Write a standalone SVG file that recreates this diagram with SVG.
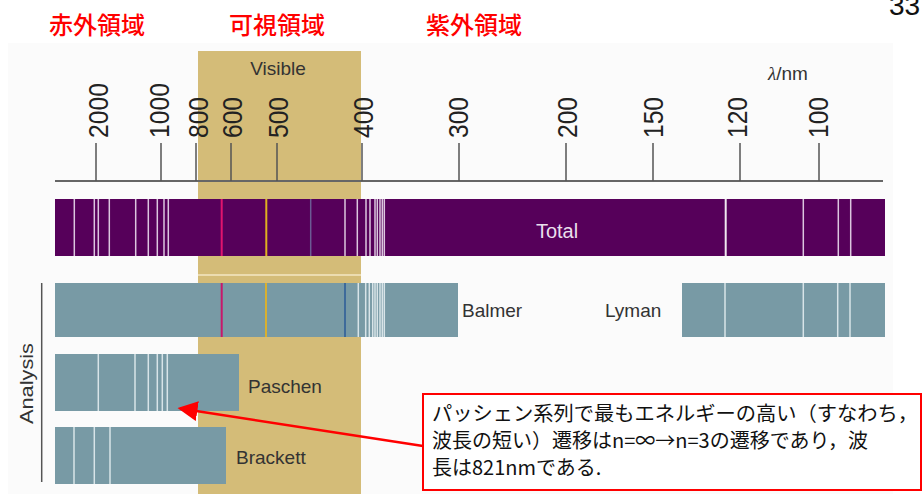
<svg xmlns="http://www.w3.org/2000/svg" width="923" height="494" viewBox="0 0 923 494">
<defs>
<style>
.red{font-family:"Noto Sans CJK JP","Noto Sans",sans-serif;font-size:24px;font-weight:500;fill:#ff0000}
.ax{font-family:"Liberation Sans",Arial,sans-serif;font-size:28px;fill:#222}
.lbl{font-family:"Liberation Sans",Arial,sans-serif;font-size:19px;fill:#333}
.tick{stroke:#555;stroke-width:1.5}
.wl{stroke:#dcc6df;stroke-width:1.5}
.tl{stroke:#d8e4e8;stroke-width:1.5}
.purple{fill:#56005a}
.teal{fill:#789aa5}
.cjk{font-family:"Noto Sans CJK JP","Noto Sans",sans-serif;font-size:20px;fill:#111}
</style>
<marker id="ah" markerWidth="8" markerHeight="8" refX="7" refY="4" orient="auto" markerUnits="strokeWidth">
<path d="M0,0 L8,4 L0,8 z" fill="#ff0000"/>
</marker>
</defs>
<rect width="923" height="494" fill="#ffffff"/>
<rect x="8" y="43" width="885" height="451" fill="#fbfbfb"/>
<text x="889" y="15" font-family="Liberation Sans,Arial,sans-serif" font-size="28" fill="#111">33</text>
<g id="region-labels">
<text class="red" x="49" y="34">赤外領域</text>
<text class="red" x="229" y="34">可視領域</text>
<text class="red" x="426" y="34">紫外領域</text>
</g>
<g id="visible-band">
<rect x="198" y="51" width="163" height="443" fill="#d4bc78"/>
<line x1="198" y1="275" x2="361" y2="275" stroke="#ecdcb0" stroke-width="2"/>
<text class="lbl" x="278" y="75" text-anchor="middle" font-size="19">Visible</text>
</g>
<g id="axis">
<line x1="55" y1="181" x2="883" y2="181" stroke="#666" stroke-width="2"/>
<line class="tick" x1="96" y1="143" x2="96" y2="181"/>
<line class="tick" x1="161" y1="143" x2="161" y2="181"/>
<line class="tick" x1="196" y1="143" x2="196" y2="181"/>
<line class="tick" x1="231" y1="143" x2="231" y2="181"/>
<line class="tick" x1="277" y1="143" x2="277" y2="181"/>
<line class="tick" x1="362" y1="143" x2="362" y2="181"/>
<line class="tick" x1="459" y1="143" x2="459" y2="181"/>
<line class="tick" x1="566" y1="143" x2="566" y2="181"/>
<line class="tick" x1="653" y1="143" x2="653" y2="181"/>
<line class="tick" x1="740" y1="143" x2="740" y2="181"/>
<line class="tick" x1="819" y1="143" x2="819" y2="181"/>
<text class="ax" transform="translate(108,138) rotate(-90)" textLength="55" lengthAdjust="spacingAndGlyphs">2000</text>
<text class="ax" transform="translate(169,138) rotate(-90)" textLength="55" lengthAdjust="spacingAndGlyphs">1000</text>
<text class="ax" transform="translate(208,138) rotate(-90)" textLength="41" lengthAdjust="spacingAndGlyphs">800</text>
<text class="ax" transform="translate(242,138) rotate(-90)" textLength="41" lengthAdjust="spacingAndGlyphs">600</text>
<text class="ax" transform="translate(288,138) rotate(-90)" textLength="41" lengthAdjust="spacingAndGlyphs">500</text>
<text class="ax" transform="translate(373,138) rotate(-90)" textLength="41" lengthAdjust="spacingAndGlyphs">400</text>
<text class="ax" transform="translate(468,138) rotate(-90)" textLength="41" lengthAdjust="spacingAndGlyphs">300</text>
<text class="ax" transform="translate(577,138) rotate(-90)" textLength="41" lengthAdjust="spacingAndGlyphs">200</text>
<text class="ax" transform="translate(663,138) rotate(-90)" textLength="41" lengthAdjust="spacingAndGlyphs">150</text>
<text class="ax" transform="translate(747,138) rotate(-90)" textLength="41" lengthAdjust="spacingAndGlyphs">120</text>
<text class="ax" transform="translate(828,138) rotate(-90)" textLength="41" lengthAdjust="spacingAndGlyphs">100</text>
<text class="lbl" x="768" y="80"><tspan font-family="Liberation Serif,serif" font-style="italic">λ</tspan>/nm</text>
</g>
<g id="total">
<rect class="purple" x="55" y="199" width="830" height="57"/>
<g>
<line class="wl" x1="74.3" y1="199" x2="74.3" y2="256"/>
<line class="wl" x1="94.3" y1="199" x2="94.3" y2="256"/>
<line class="wl" x1="98.3" y1="199" x2="98.3" y2="256" stroke-width="2"/>
<line class="wl" x1="109.3" y1="199" x2="109.3" y2="256"/>
<line class="wl" x1="135.7" y1="199" x2="135.7" y2="256"/>
<line class="wl" x1="148.3" y1="199" x2="148.3" y2="256"/>
<line class="wl" x1="157.3" y1="199" x2="157.3" y2="256"/>
<line class="wl" x1="164" y1="199" x2="164" y2="256"/>
<line class="wl" x1="168.3" y1="199" x2="168.3" y2="256"/>
<line x1="221.7" y1="199" x2="221.7" y2="256" stroke="#e0146e" stroke-width="2"/>
<line x1="266.3" y1="199" x2="266.3" y2="256" stroke="#e0b020" stroke-width="2"/>
<line x1="310.7" y1="199" x2="310.7" y2="256" stroke="#6c5a94" stroke-width="1.5"/>
<line class="wl" x1="345" y1="199" x2="345" y2="256"/>
<line class="wl" x1="357.3" y1="199" x2="357.3" y2="256"/>
<line class="wl" x1="366" y1="199" x2="366" y2="256"/>
<line class="wl" x1="370" y1="199" x2="370" y2="256"/>
<line class="wl" x1="375" y1="199" x2="375" y2="256"/>
<line class="wl" x1="377.3" y1="199" x2="377.3" y2="256"/>
<line class="wl" x1="380" y1="199" x2="380" y2="256"/>
<line class="wl" x1="382.3" y1="199" x2="382.3" y2="256"/>
<line class="wl" x1="384.3" y1="199" x2="384.3" y2="256"/>
<line x1="725.7" y1="199" x2="725.7" y2="256" stroke="#f0e8f0" stroke-width="2"/>
<line class="wl" x1="803.3" y1="199" x2="803.3" y2="256"/>
<line class="wl" x1="838.3" y1="199" x2="838.3" y2="256"/>
<line class="wl" x1="850.7" y1="199" x2="850.7" y2="256"/>
</g>
<text x="557" y="238" text-anchor="middle" font-family="Liberation Sans,Arial,sans-serif" font-size="20" fill="#eadfec">Total</text>
</g>
<g id="analysis-label">
<line x1="41.7" y1="283" x2="41.7" y2="482" stroke="#555" stroke-width="1.5"/>
<text class="lbl" transform="translate(33,383.5) rotate(-90)" text-anchor="middle" textLength="81" lengthAdjust="spacingAndGlyphs" font-size="19">Analysis</text>
</g>
<g id="balmer">
<rect class="teal" x="55" y="283" width="403" height="54"/>
<line x1="221.7" y1="283" x2="221.7" y2="337" stroke="#c8186a" stroke-width="2"/>
<line x1="266" y1="283" x2="266" y2="337" stroke="#d8b030" stroke-width="2"/>
<line x1="345" y1="283" x2="345" y2="337" stroke="#3e6a9a" stroke-width="2"/>
<line class="tl" x1="358.3" y1="283" x2="358.3" y2="337"/>
<line class="tl" x1="365.7" y1="283" x2="365.7" y2="337"/>
<line class="tl" x1="369.3" y1="283" x2="369.3" y2="337"/>
<line class="tl" x1="372.7" y1="283" x2="372.7" y2="337"/>
<line class="tl" x1="375" y1="283" x2="375" y2="337"/>
<line class="tl" x1="377.3" y1="283" x2="377.3" y2="337"/>
<line class="tl" x1="380" y1="283" x2="380" y2="337"/>
<line class="tl" x1="382.3" y1="283" x2="382.3" y2="337"/>
<line class="tl" x1="384.3" y1="283" x2="384.3" y2="337"/>
<text class="lbl" x="462" y="317">Balmer</text>
</g>
<g id="lyman">
<rect class="teal" x="682" y="283" width="203" height="54"/>
<line class="tl" x1="725" y1="283" x2="725" y2="337" stroke-width="2"/>
<line class="tl" x1="803.3" y1="283" x2="803.3" y2="337"/>
<line class="tl" x1="837.7" y1="283" x2="837.7" y2="337"/>
<line class="tl" x1="850" y1="283" x2="850" y2="337"/>
<text class="lbl" x="605" y="317">Lyman</text>
</g>
<g id="paschen">
<rect class="teal" x="55" y="354" width="184" height="57"/>
<line class="tl" x1="98.3" y1="354" x2="98.3" y2="411" stroke-width="2"/>
<line class="tl" x1="135" y1="354" x2="135" y2="411"/>
<line class="tl" x1="148.3" y1="354" x2="148.3" y2="411"/>
<line class="tl" x1="157.3" y1="354" x2="157.3" y2="411"/>
<line class="tl" x1="162.3" y1="354" x2="162.3" y2="411"/>
<line class="tl" x1="167.3" y1="354" x2="167.3" y2="411"/>
<text class="lbl" x="248" y="393">Paschen</text>
</g>
<g id="brackett">
<rect class="teal" x="55" y="427" width="171" height="57"/>
<line class="tl" x1="74" y1="427" x2="74" y2="484" stroke-width="2"/>
<line class="tl" x1="94.3" y1="427" x2="94.3" y2="484" stroke-width="2"/>
<line class="tl" x1="110" y1="427" x2="110" y2="484" stroke-width="2"/>
<text class="lbl" x="236" y="464">Brackett</text>
</g>
<g id="connectors">
<line x1="423" y1="446" x2="180" y2="408.5" stroke="#ff0000" stroke-width="2.5" marker-end="url(#ah)"/>
</g>
<g id="callout">
<rect x="423" y="394" width="498" height="96" fill="#ffffff" stroke="#ff0000" stroke-width="2"/>
<text class="cjk" x="432" y="421" textLength="486" lengthAdjust="spacingAndGlyphs">パッシェン系列で最もエネルギーの高い（すなわち，</text>
<text class="cjk" x="432" y="448">波長の短い）遷移はn=∞→n=3の遷移であり，波</text>
<text class="cjk" x="432" y="475">長は821nmである.</text>
</g>
</svg>
